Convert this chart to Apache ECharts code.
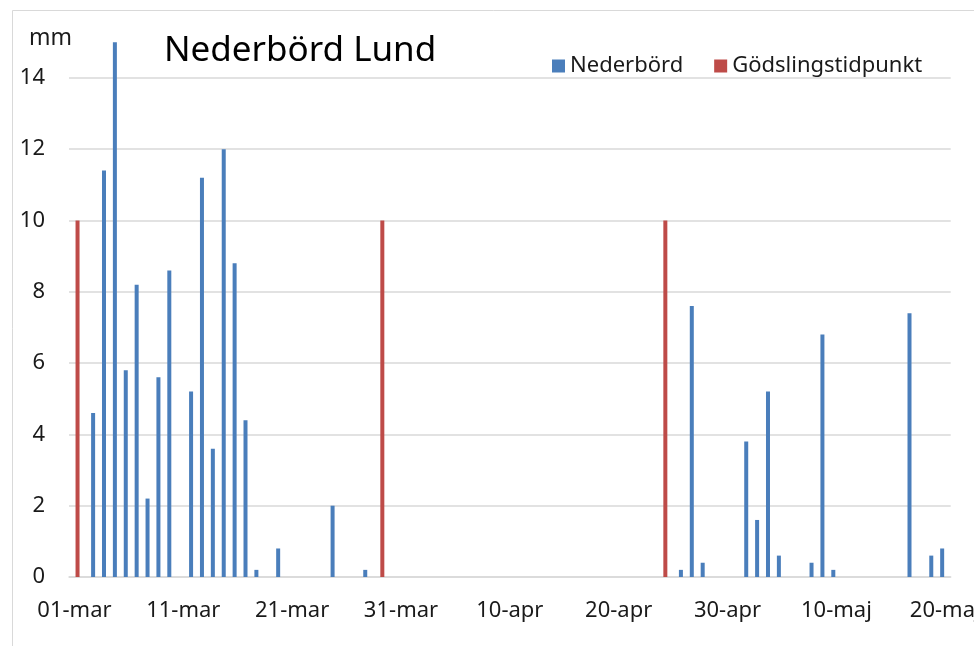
<!DOCTYPE html>
<html>
<head>
<meta charset="utf-8">
<script src="https://cdn.jsdelivr.net/npm/echarts@6/dist/echarts.min.js"></script>
<style>
  html, body { margin: 0; padding: 0; background: #fff; }
  #myChart { width: 974px; height: 646px; }
</style>
</head>
<body>
<div id="myChart"></div>
<script>
// day labels, 01-mar .. 20-maj
var months = [["mar", 31], ["apr", 30], ["maj", 20]];
var days = [];
months.forEach(function (m) {
  for (var d = 1; d <= m[1]; d++) {
    days.push((d < 10 ? "0" + d : "" + d) + "-" + m[0]);
  }
});

// Nederbörd (mm), one value per day
var nederbord = [
  0, 0, 4.6, 11.4, 15.0, 5.8, 8.2, 2.2, 5.6, 8.6,      // 01-10 mar
  0, 5.2, 11.2, 3.6, 12.0, 8.8, 4.4, 0.2, 0, 0.8,      // 11-20 mar
  0, 0, 0, 0, 2.0, 0, 0, 0.2, 0, 0,                    // 21-30 mar
  0, 0, 0, 0, 0, 0, 0, 0, 0, 0,                        // 31-mar - 09-apr
  0, 0, 0, 0, 0, 0, 0, 0, 0, 0,                        // 10-19 apr
  0, 0, 0, 0, 0, 0, 0.2, 7.6, 0.4, 0,                  // 20-29 apr
  0, 0, 3.8, 1.6, 5.2, 0.6, 0, 0, 0.4, 6.8,            // 30-apr - 09-maj
  0.2, 0, 0, 0, 0, 0, 0, 7.4, 0, 0.6,                  // 10-19 maj
  0.8                                                  // 20-maj
];

// Gödslingstidpunkt marker bars
var godsling = [
  10, 0, 0, 0, 0, 0, 0, 0, 0, 0,
  0, 0, 0, 0, 0, 0, 0, 0, 0, 0,
  0, 0, 0, 0, 0, 0, 0, 0, 10, 0,
  0, 0, 0, 0, 0, 0, 0, 0, 0, 0,
  0, 0, 0, 0, 0, 0, 0, 0, 0, 0,
  0, 0, 0, 0, 10, 0, 0, 0, 0, 0,
  0, 0, 0, 0, 0, 0, 0, 0, 0, 0,
  0, 0, 0, 0, 0, 0, 0, 0, 0, 0,
  0
];

var font = "'Noto Sans', sans-serif";

var option = {
  animation: false,
  backgroundColor: "#fff",
  textStyle: { fontFamily: font },
  graphic: [
    {
      type: "polyline",
      shape: { points: [[12.5, 646], [12.5, 10.5], [974, 10.5]] },
      style: { stroke: "#d9d9d9", lineWidth: 1, fill: null }
    },
    {
      type: "text",
      left: 164,
      top: 34,
      style: { text: "Nederbörd Lund", font: "35px " + font, fill: "#000" }
    },
    {
      type: "text",
      left: 29,
      top: 27,
      style: { text: "mm", font: "23px " + font, fill: "#1a1a1a" }
    }
  ],
  legend: {
    data: ["Nederbörd", "Gödslingstidpunkt"],
    left: 547,
    top: 50,
    icon: "rect",
    itemWidth: 13,
    itemHeight: 13,
    itemGap: 31,
    textStyle: { fontSize: 22, color: "#1a1a1a", fontFamily: font }
  },
  grid: {
    left: 69,
    right: 23.3,
    top: 6.6,
    bottom: 69,
    outerBoundsMode: "none"
  },
  xAxis: {
    type: "category",
    data: days,
    boundaryGap: true,
    axisTick: { show: false },
    axisLine: { lineStyle: { color: "#d9d9d9", width: 1.5 } },
    axisLabel: {
      interval: 9,
      margin: 23,
      fontSize: 22,
      color: "#1a1a1a",
      fontFamily: font
    }
  },
  yAxis: {
    type: "value",
    min: 0,
    max: 16,
    interval: 2,
    axisLine: { show: false },
    axisTick: { show: false },
    axisLabel: {
      margin: 24,
      fontSize: 22,
      color: "#1a1a1a",
      fontFamily: font,
      showMaxLabel: false
    },
    splitLine: {
      showMaxLine: false,
      lineStyle: { color: "#d9d9d9", width: 1.5 }
    }
  },
  series: [
    {
      name: "Nederbörd",
      type: "bar",
      data: nederbord,
      barWidth: 4,
      barGap: "55%",
      itemStyle: { color: "#4a7ebb" }
    },
    {
      name: "Gödslingstidpunkt",
      type: "bar",
      data: godsling,
      barWidth: 4,
      itemStyle: { color: "#be4b48" }
    }
  ]
};

var myChart = echarts.init(document.getElementById("myChart"));
myChart.setOption(option);
</script>
</body>
</html>
